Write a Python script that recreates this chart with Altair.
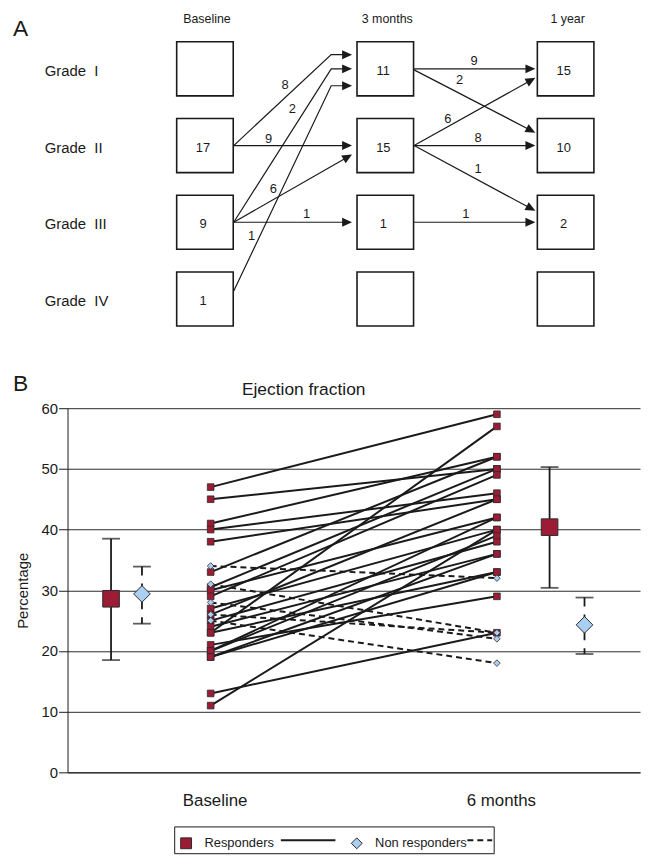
import math
import altair as alt
import pandas as pd

# ---------------- Panel A values ----------------
timepoints = ["Baseline", "3 months", "1 year"]
grade_labels = ["Grade\u00a0\u00a0I", "Grade\u00a0\u00a0II", "Grade\u00a0\u00a0III", "Grade\u00a0\u00a0IV"]
counts_baseline = [None, 17, 9, 1]
counts_3months = [11, 15, 1, None]
counts_1year = [15, 10, 2, None]
flow_from_time = [0, 0, 0, 0, 0, 0, 1, 1, 1, 1, 1, 1]
flow_from_grade = [2, 2, 3, 3, 3, 4, 1, 1, 2, 2, 2, 3]
flow_to_grade = [1, 2, 1, 2, 3, 1, 1, 2, 1, 2, 3, 3]
flow_n = [8, 9, 2, 6, 1, 1, 9, 2, 6, 8, 1, 1]

# ---------------- Panel B values ----------------
groups = ["Responders", "Non responders"]
resp_baseline = [47, 45, 41, 40, 38, 33, 30.5, 30, 29, 27, 26, 25, 24, 23, 23, 21, 20, 20, 19, 19, 13, 11]
resp_6months = [59, 50, 52, 46, 45, 52, 50, 42, 49, 40, 45, 38, 36, 57, 33, 29, 42, 39, 36, 33, 23, 40]
nonresp_baseline = [34, 31, 28, 26, 25]
nonresp_6months = [32, 23, 22, 23, 18]
mean_group = ["Responders", "Non responders", "Responders", "Non responders"]
mean_time = ["Baseline", "Baseline", "6 months", "6 months"]
mean_value = [28.6, 29.4, 40.4, 24.3]
mean_low = [18.5, 24.5, 30.4, 19.5]
mean_high = [38.5, 33.9, 50.3, 28.8]
y_ticks = [0, 10, 20, 30, 40, 50, 60]
x_time_labels = ["Baseline", "6 months"]

# ---------------- layout (pixels) ----------------
OX, OY = 68, 408          # page position of panel B plot origin
PW, PH = 577, 367
COL0, COLSTEP = 206.5, 181.75
ROW0, ROWSTEP = 66.0, 77.3
BOXW, BOXH = 57, 54.5
GAP = [5, 2]
# start_dy, end_dy, bend, label_dx, label_dy (pixels, relative to arrow start)
ARROW_LAYOUT = [
    (0, -14.3, True, 51.7, -60.6),
    (0, 0, False, 35, -6.2),
    (0, 0, True, 59, -113.9),
    (0, 9, False, 40, -33.5),
    (0, 0, False, 73.4, -7.9),
    (-8, 17, True, 18, -55.5),
    (0, 0, False, 60.5, -8.3),
    (1, -13, False, 45.8, 10.7),
    (0, 9, False, 34.1, -27.2),
    (0, 0, False, 64.5, -7.2),
    (0, -11.5, False, 64.5, 23.4),
    (0, 0, False, 52.1, -7.9),
]
TIME_X = {"Baseline": 2.5, "6 months": 7.5}
MEAN_X = {("Baseline", "Responders"): 0.76, ("Baseline", "Non responders"): 1.30,
          ("6 months", "Responders"): 8.42, ("6 months", "Non responders"): 9.03}
FONT = "Liberation Sans"
INK = "#1a1a1a"
EDGE = "#2b2b2b"


def t_of(px):
    return (px - COL0) / COLSTEP


def g_of(py):
    return 1 + (py - ROW0) / ROWSTEP


def col_px(t):
    return COL0 + t * COLSTEP


def row_px(g):
    return ROW0 + (g - 1) * ROWSTEP


# ---------------- Panel A tables ----------------
box_rows = []
for ti, counts in enumerate([counts_baseline, counts_3months, counts_1year]):
    for gi, c in enumerate(counts, start=1):
        box_rows.append(dict(t=ti, g=gi, label="" if c is None else str(c),
                             x1=t_of(col_px(ti) - BOXW / 2), x2=t_of(col_px(ti) + BOXW / 2),
                             y1=g_of(row_px(gi) - BOXH / 2), y2=g_of(row_px(gi) + BOXH / 2)))
boxes_df = pd.DataFrame(box_rows)

line_rows, head_rows, lab_rows = [], [], []
for i, (ft, fg, tg, n) in enumerate(zip(flow_from_time, flow_from_grade, flow_to_grade, flow_n)):
    sdy, edy, bend, ldx, ldy = ARROW_LAYOUT[i]
    sx = col_px(ft) + BOXW / 2 + 0.5
    sy = row_px(fg) + sdy
    ex = col_px(ft + 1) - BOXW / 2 - GAP[ft]
    ey = row_px(tg) + edy
    pts = [(sx, sy)]
    if bend:
        pts.append((ex - 21, ey))
    px_, py_ = pts[-1]
    ang = math.degrees(math.atan2(ey - py_, ex - px_)) % 360
    L = math.hypot(ex - px_, ey - py_)
    pts.append((ex - (ex - px_) / L * 6, ey - (ey - py_) / L * 6))
    for k, (x, y) in enumerate(pts):
        line_rows.append(dict(arrow=i, k=k, t=t_of(x), g=g_of(y)))
    head_rows.append(dict(t=t_of(ex), g=g_of(ey), angle=ang))
    lab_rows.append(dict(t=t_of(sx + ldx), g=g_of(sy + ldy), label=str(n)))
arrow_df = pd.DataFrame(line_rows)
head_df = pd.DataFrame(head_rows)
flowlab_df = pd.DataFrame(lab_rows)
grade_df = pd.DataFrame(dict(t=[t_of(45)] * 4, g=[1, 2, 3, 4], label=grade_labels))
header_df = pd.DataFrame(dict(t=[0, 1, 2], g=[g_of(16)] * 3, label=timepoints))

xA = alt.Scale(domain=[0, 2], range=[col_px(0) - OX, col_px(2) - OX], zero=False, nice=False)
yA = alt.Scale(domain=[1, 4], range=[row_px(1) - OY, row_px(4) - OY], zero=False, nice=False)


def XA(f):
    return alt.X(f, type="quantitative", scale=xA, axis=None)


def YA(f):
    return alt.Y(f, type="quantitative", scale=yA, axis=None)


boxes = alt.Chart(boxes_df).mark_rect(filled=False, stroke=INK, strokeWidth=1.6).encode(
    x=XA("x1"), x2="x2", y=YA("y1"), y2="y2")
box_text = alt.Chart(boxes_df).mark_text(fontSize=13, dx=-2, dy=2, color=INK).encode(
    x=XA("t"), y=YA("g"), text="label:N")
arrows = alt.Chart(arrow_df).mark_line(color=INK, strokeWidth=1.2).encode(
    x=XA("t"), y=YA("g"), detail="arrow:N", order="k:O")
heads = alt.Chart(head_df).mark_point(shape="M0,0L-2,-0.9L-2,0.9Z", filled=True, color=INK,
                                     size=100, opacity=1).encode(
    x=XA("t"), y=YA("g"), angle=alt.Angle("angle:Q", scale=None))
flow_text = alt.Chart(flowlab_df).mark_text(fontSize=13, color=INK).encode(
    x=XA("t"), y=YA("g"), text="label:N")
grade_text = alt.Chart(grade_df).mark_text(fontSize=15, align="left", dy=2, color=INK).encode(
    x=XA("t"), y=YA("g"), text="label:N")
header_text = alt.Chart(header_df).mark_text(fontSize=12.5, dx=2, color=INK).encode(
    x=XA("t"), y=YA("g"), text="label:N")

one = pd.DataFrame({"z": [0]})
lab_A = alt.Chart(one).mark_text(text="A", fontSize=23, align="left", baseline="alphabetic", color=INK).encode(
    x=alt.value(13 - OX), y=alt.value(33 - OY))
lab_B = alt.Chart(one).mark_text(text="B", fontSize=23, align="left", baseline="alphabetic", color=INK).encode(
    x=alt.value(13 - OX), y=alt.value(391 - OY))
title_B = alt.Chart(one).mark_text(text="Ejection fraction", fontSize=17.5, color=INK).encode(
    x=alt.value(306 - OX), y=alt.value(390 - OY))
leg_box = alt.Chart(one).mark_rect(filled=False, stroke=INK, strokeWidth=1).encode(
    x=alt.value(176 - OX), x2=alt.value(498 - OX), y=alt.value(830 - OY), y2=alt.value(857 - OY))
leg_solid = alt.Chart(one).mark_rule(color=INK, strokeWidth=2).encode(
    x=alt.value(283 - OX), x2=alt.value(338 - OX), y=alt.value(843.5 - OY))
leg_dash = alt.Chart(one).mark_rule(color=INK, strokeWidth=2, strokeDash=[6, 4]).encode(
    x=alt.value(471 - OX), x2=alt.value(496 - OX), y=alt.value(843.5 - OY))

panelA = alt.layer(boxes, box_text, arrows, heads, flow_text, grade_text, header_text,
                   lab_A, lab_B, title_B, leg_box, leg_solid, leg_dash)

# ---------------- Panel B tables ----------------
lrows = []
for gname, b, s in [("Responders", resp_baseline, resp_6months), ("Non responders", nonresp_baseline, nonresp_6months)]:
    for i, (v0, v1) in enumerate(zip(b, s)):
        lrows.append(dict(id=f"{gname}{i}", group=gname, x=TIME_X["Baseline"], y=v0))
        lrows.append(dict(id=f"{gname}{i}", group=gname, x=TIME_X["6 months"], y=v1))
lines_df = pd.DataFrame(lrows)
stats_df = pd.DataFrame(dict(group=mean_group, time=mean_time, y=mean_value, lo=mean_low, hi=mean_high))
stats_df["x"] = [MEAN_X[(t, g)] for t, g in zip(mean_time, mean_group)]
caps_df = pd.concat([stats_df.assign(y=stats_df["lo"]), stats_df.assign(y=stats_df["hi"])])

xB = alt.Scale(domain=[0, 10], zero=False, nice=False)
yB = alt.Scale(domain=[0, 60], nice=False)
label_expr = "".join(f"datum.value == {TIME_X[l]} ? '{l}' : " for l in x_time_labels[:-1]) + f"'{x_time_labels[-1]}'"
axXB = alt.Axis(orient="bottom", values=[TIME_X[l] for l in x_time_labels], labelExpr=label_expr,
                ticks=False, grid=False, domainColor=INK, domainWidth=1, labelFontSize=17,
                labelColor=INK, labelPadding=20, labelOffset=4, title=None)
axYB = alt.Axis(orient="left", values=y_ticks, grid=True, gridColor="#2a2a2a", gridWidth=1,
                domainColor=INK, domainWidth=1, tickColor=INK, tickSize=9, labelPadding=1,
                labelFontSize=15, labelColor=INK, title="Percentage", titleFontSize=15,
                titleFontWeight="normal", titleColor=INK, titlePadding=11)


def XB(f):
    return alt.X(f, type="quantitative", scale=xB, axis=axXB)


def YB(f):
    return alt.Y(f, type="quantitative", scale=yB, axis=axYB)


shape_scale = alt.Scale(domain=groups, range=["square", "diamond"])
fill_scale = alt.Scale(domain=groups, range=["#9c1c35", "#aacff0"])
stroke_scale = alt.Scale(domain=groups, range=[EDGE, EDGE])
leg = alt.Legend(orient="none", legendX=181 - OX, legendY=840 - OY, direction="horizontal",
                 title=None, labelFontSize=13, labelColor=INK, symbolSize=120,
                 symbolStrokeWidth=1, labelOffset=12, columnPadding=75, padding=0)


def marker_enc():
    return dict(shape=alt.Shape("group:N", scale=shape_scale, legend=leg),
                fill=alt.Fill("group:N", scale=fill_scale, legend=leg),
                stroke=alt.Stroke("group:N", scale=stroke_scale, legend=leg))


lines_r = alt.Chart(lines_df).transform_filter(alt.datum.group == groups[0]).mark_line(
    color=INK, strokeWidth=2).encode(x=XB("x"), y=YB("y"), detail="id:N")
lines_nr = alt.Chart(lines_df).transform_filter(alt.datum.group == groups[1]).mark_line(
    color=INK, strokeWidth=2, strokeDash=[6, 4]).encode(x=XB("x"), y=YB("y"), detail="id:N")
err_r = alt.Chart(stats_df).transform_filter(alt.datum.group == groups[0]).mark_rule(
    color=INK, strokeWidth=1.8).encode(x=XB("x"), y=YB("hi"), y2="lo")
err_nr = alt.Chart(stats_df).transform_filter(alt.datum.group == groups[1]).mark_rule(
    color=INK, strokeWidth=1.8, strokeDash=[9, 8]).encode(x=XB("x"), y=YB("hi"), y2="lo")
caps = alt.Chart(caps_df).mark_tick(orient="horizontal", size=18, thickness=1.8, color=INK).encode(
    x=XB("x"), y=YB("y"))
markers = alt.Chart(lines_df).mark_point(filled=True, size=45, strokeWidth=0.8, opacity=1).encode(
    x=XB("x"), y=YB("y"), **marker_enc())
means = alt.Chart(stats_df).mark_point(filled=True, size=280, strokeWidth=1, opacity=1).encode(
    x=XB("x"), y=YB("y"), **marker_enc())

panelB = alt.layer(lines_r, lines_nr, err_r, err_nr, caps, markers, means)

chart = alt.layer(panelA, panelB).resolve_scale(x="independent", y="independent").properties(
    width=PW, height=PH,
    padding={"left": OX - 8, "top": OY - 8, "right": 5, "bottom": 85},
    autosize=alt.AutoSizeParams(type="none"),
).configure(font=FONT).configure_view(stroke=None)

chart.save("out.html", embed_options={"renderer": "svg", "actions": False})
